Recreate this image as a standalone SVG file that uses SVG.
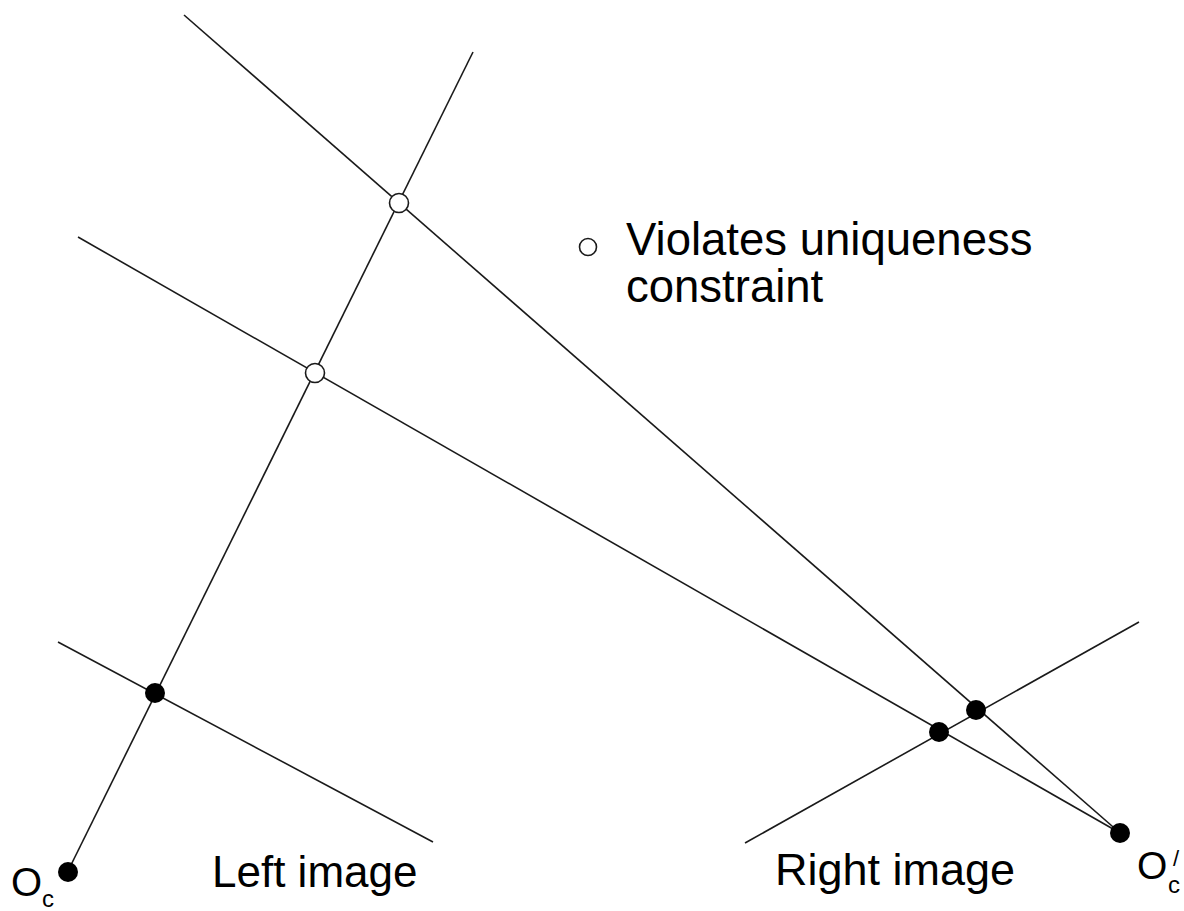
<svg xmlns="http://www.w3.org/2000/svg" width="1184" height="911" viewBox="0 0 1184 911">
<style>
.ln{stroke:#1a1a1a;stroke-width:1.6;fill:none}
.dot{fill:#000}
.hol{fill:#fff;stroke:#1a1a1a;stroke-width:1.6}
.t{font-family:"Liberation Sans",Arial,sans-serif;fill:#000}
</style>
<rect width="1184" height="911" fill="#fff"/>
<g id="connectors">
<line class="ln" x1="68" y1="871" x2="473" y2="52"/>
<line class="ln" x1="184" y1="15" x2="1120" y2="833"/>
<line class="ln" x1="78" y1="237" x2="1120" y2="833"/>
<line class="ln" x1="58" y1="642" x2="433" y2="842"/>
<line class="ln" x1="745" y1="843" x2="1139" y2="622"/>
</g>
<g id="Oc">
<circle class="dot" cx="68" cy="872" r="10"/>
<text class="t" x="11" y="896" font-size="40">O</text>
<text class="t" x="42" y="907" font-size="24">c</text>
</g>
<g id="Oc_prime">
<circle class="dot" cx="1120" cy="833" r="10"/>
<text class="t" x="1137" y="879" font-size="39">O</text>
<text class="t" x="1168" y="893" font-size="24">c</text>
<text class="t" x="1173" y="866" font-size="22">/</text>
</g>
<g id="left_point">
<circle class="dot" cx="155" cy="693" r="10"/>
</g>
<g id="right_point1">
<circle class="dot" cx="939" cy="732" r="10"/>
</g>
<g id="right_point2">
<circle class="dot" cx="976" cy="710" r="10"/>
</g>
<g id="hollow1">
<circle class="hol" cx="399" cy="203" r="9.5"/>
</g>
<g id="hollow2">
<circle class="hol" cx="315" cy="373" r="9.5"/>
</g>
<g id="legend">
<circle class="hol" cx="588" cy="247" r="8.5"/>
<text class="t" x="626" y="255" font-size="45.5">Violates uniqueness</text>
<text class="t" x="626" y="302" font-size="45.5">constraint</text>
</g>
<g id="labels">
<text class="t" x="212" y="887" font-size="44">Left image</text>
<text class="t" x="775" y="885" font-size="45">Right image</text>
</g>
</svg>
